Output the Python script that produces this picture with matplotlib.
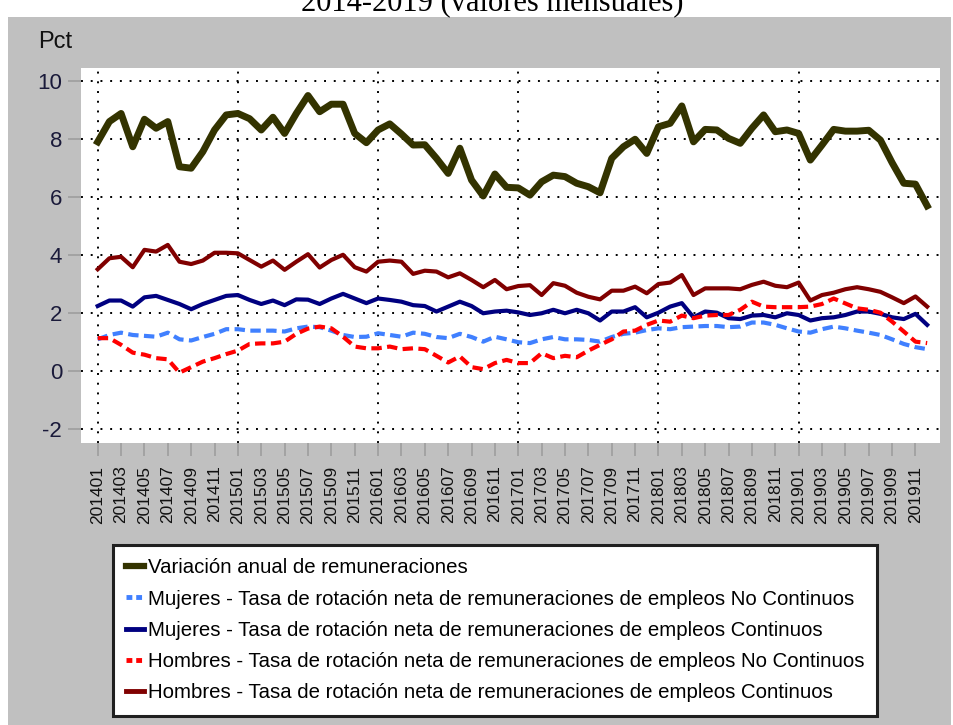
import matplotlib
matplotlib.use("Agg")
import matplotlib.pyplot as plt
from matplotlib.patches import Rectangle
from matplotlib.lines import Line2D

plt.rcParams['font.family'] = ['Liberation Sans', 'DejaVu Sans']

years = [2014, 2015, 2016, 2017, 2018, 2019]
periods = [f"{y}{m:02d}" for y in years for m in range(1, 13)]

variacion = [7.90, 8.60, 8.88, 7.73, 8.68, 8.37, 8.60, 7.04, 6.99, 7.56, 8.31, 8.83,
             8.88, 8.70, 8.31, 8.75, 8.19, 8.88, 9.50, 8.94, 9.20, 9.20, 8.19, 7.87,
             8.31, 8.52, 8.17, 7.79, 7.80, 7.33, 6.81, 7.68, 6.58, 6.03, 6.79, 6.33,
             6.31, 6.06, 6.52, 6.75, 6.70, 6.47, 6.35, 6.14, 7.33, 7.73, 7.99, 7.50,
             8.42, 8.54, 9.14, 7.90, 8.33, 8.31, 8.02, 7.85, 8.37, 8.83, 8.25, 8.31,
             8.19, 7.27, 7.79, 8.33, 8.27, 8.27, 8.30, 7.96, 7.18, 6.47, 6.44, 5.69]

hombres_cont = [3.50, 3.88, 3.93, 3.57, 4.17, 4.11, 4.34, 3.76, 3.68, 3.80, 4.07, 4.07,
                4.05, 3.82, 3.59, 3.80, 3.48, 3.76, 4.02, 3.56, 3.82, 4.00, 3.57, 3.42,
                3.76, 3.80, 3.76, 3.34, 3.45, 3.42, 3.22, 3.36, 3.13, 2.88, 3.13, 2.81,
                2.92, 2.95, 2.61, 3.02, 2.93, 2.69, 2.55, 2.46, 2.76, 2.76, 2.90, 2.67,
                2.99, 3.04, 3.30, 2.61, 2.84, 2.84, 2.84, 2.81, 2.96, 3.07, 2.93, 2.88,
                3.04, 2.42, 2.61, 2.69, 2.81, 2.88, 2.81, 2.72, 2.53, 2.33, 2.56, 2.21]

mujeres_cont = [2.23, 2.42, 2.42, 2.21, 2.53, 2.58, 2.44, 2.30, 2.12, 2.30, 2.44, 2.58,
                2.61, 2.44, 2.30, 2.42, 2.26, 2.46, 2.45, 2.30, 2.49, 2.65, 2.49, 2.33,
                2.49, 2.44, 2.38, 2.26, 2.23, 2.04, 2.21, 2.38, 2.23, 1.98, 2.04, 2.07,
                2.01, 1.92, 1.98, 2.10, 1.98, 2.10, 1.98, 1.73, 2.04, 2.04, 2.19, 1.84,
                2.00, 2.21, 2.33, 1.84, 2.04, 2.00, 1.81, 1.78, 1.90, 1.92, 1.84, 1.98,
                1.92, 1.73, 1.81, 1.84, 1.92, 2.04, 2.04, 1.96, 1.84, 1.78, 1.96, 1.58]

mujeres_nocont = [1.08, 1.23, 1.31, 1.23, 1.20, 1.17, 1.31, 1.08, 1.04, 1.16, 1.27, 1.43,
                  1.43, 1.38, 1.38, 1.38, 1.35, 1.46, 1.52, 1.50, 1.38, 1.23, 1.16, 1.17,
                  1.29, 1.23, 1.17, 1.31, 1.27, 1.16, 1.12, 1.27, 1.16, 1.00, 1.17, 1.08,
                  0.98, 0.95, 1.08, 1.16, 1.08, 1.08, 1.06, 1.00, 1.16, 1.27, 1.31, 1.40,
                  1.46, 1.43, 1.50, 1.52, 1.54, 1.54, 1.50, 1.52, 1.66, 1.66, 1.58, 1.46,
                  1.35, 1.31, 1.43, 1.52, 1.46, 1.38, 1.31, 1.23, 1.08, 0.92, 0.81, 0.74]

hombres_nocont = [1.12, 1.12, 0.89, 0.62, 0.55, 0.43, 0.39, -0.07, 0.12, 0.31, 0.43, 0.57,
                  0.69, 0.92, 0.94, 0.94, 1.00, 1.27, 1.45, 1.52, 1.46, 1.17, 0.83, 0.77,
                  0.77, 0.83, 0.74, 0.77, 0.74, 0.51, 0.28, 0.49, 0.12, 0.05, 0.26, 0.37,
                  0.26, 0.26, 0.60, 0.43, 0.51, 0.46, 0.69, 0.89, 1.08, 1.35, 1.38, 1.58,
                  1.73, 1.69, 1.90, 1.81, 1.90, 1.92, 1.92, 2.10, 2.38, 2.21, 2.19, 2.19,
                  2.19, 2.21, 2.30, 2.49, 2.32, 2.15, 2.10, 2.00, 1.69, 1.35, 1.00, 0.95]

legend_labels = [
    "Variación anual de remuneraciones",
    "Mujeres - Tasa de rotación neta de remuneraciones de empleos No Continuos",
    "Mujeres - Tasa de rotación neta de remuneraciones de empleos Continuos",
    "Hombres - Tasa de rotación neta de remuneraciones de empleos No Continuos",
    "Hombres - Tasa de rotación neta de remuneraciones de empleos Continuos",
]
y_ticks = [-2, 0, 2, 4, 6, 8, 10]

W, H = 954, 725
fig = plt.figure(figsize=(W / 100, H / 100), dpi=100)
fig.patch.set_facecolor('white')

# gray panel
fig.patches.append(Rectangle((8 / W, 0), 943 / W, 1 - 17 / H, transform=fig.transFigure,
                             facecolor='#c0c0c0', edgecolor='none', zorder=-10))

# cut-off title
fig.text(492 / W, 1 - 10 / H, "2014-2019 (valores mensuales)", ha='center', va='baseline',
         fontsize=22, family=['Liberation Serif', 'DejaVu Serif'], color='black', zorder=-5)

ax = fig.add_axes([81 / W, 1 - 442.7 / H, (940 - 81) / W, (442.7 - 68.3) / H])
ax.set_zorder(1)
ax.set_facecolor('white')
for s in ax.spines.values():
    s.set_visible(False)

x = list(range(len(periods)))
lw_main = 5.0
lw = 3.0
ax.plot(x, mujeres_nocont, color='#4080ff', lw=lw, dashes=(2.5, 1.3), zorder=3)
ax.plot(x, mujeres_cont, color='#000080', lw=lw, zorder=3)
ax.plot(x, hombres_cont, color='#800000', lw=lw, zorder=3)
ax.plot(x, hombres_nocont, color='#ff0000', lw=lw, dashes=(2.5, 1.3), zorder=4)
ax.plot(x, variacion, color='#333300', lw=lw_main, zorder=5)

ax.set_xlim(-1.43, 72.1)
ax.set_ylim(-2.49, 10.44)

ax.set_yticks(y_ticks)
ax.set_yticklabels([str(v) for v in y_ticks], fontsize=16, color='#1a1a3a')
ax.set_xticks(x[::2])
ax.set_xticklabels(periods[::2], rotation=90, fontsize=12.5, color='#111111')
ax.tick_params(axis='both', which='major', direction='out', length=9.5, width=1.3,
               color='#a0a0a0')
ax.tick_params(axis='x', pad=7)
ax.tick_params(axis='y', pad=4)

# grid: horizontal at y ticks, vertical at each January
for v in y_ticks:
    ax.axhline(v, color='black', lw=1.4, linestyle=(0, (1, 4)), zorder=1)
for i in range(0, len(periods), 12):
    ax.axvline(i, color='black', lw=1.4, linestyle=(0, (1, 4)), zorder=1)

fig.text(38 / W, 1 - 48 / H, "Pct", fontsize=17, ha='left', va='baseline', color='#111111')

handles = [
    Line2D([], [], color='#333300', lw=4.5),
    Line2D([], [], color='#4080ff', lw=3.5, dashes=(1.2, 0.8)),
    Line2D([], [], color='#000080', lw=3.5),
    Line2D([], [], color='#ff0000', lw=3.5, dashes=(1.2, 0.8)),
    Line2D([], [], color='#800000', lw=3.5),
]
leg = fig.legend(handles, legend_labels, loc='upper left',
                 bbox_to_anchor=(113 / W, 1 - 545 / H), fontsize=14.7,
                 frameon=True, fancybox=False, handlelength=0.85, handletextpad=0.2,
                 labelspacing=0.6, borderpad=0.65, borderaxespad=0)
frame = leg.get_frame()
frame.set_edgecolor('#202020')
frame.set_linewidth(2.2)
frame.set_facecolor('white')
frame.set_alpha(1)

fig.savefig('out.png', dpi=100, facecolor=fig.get_facecolor())
